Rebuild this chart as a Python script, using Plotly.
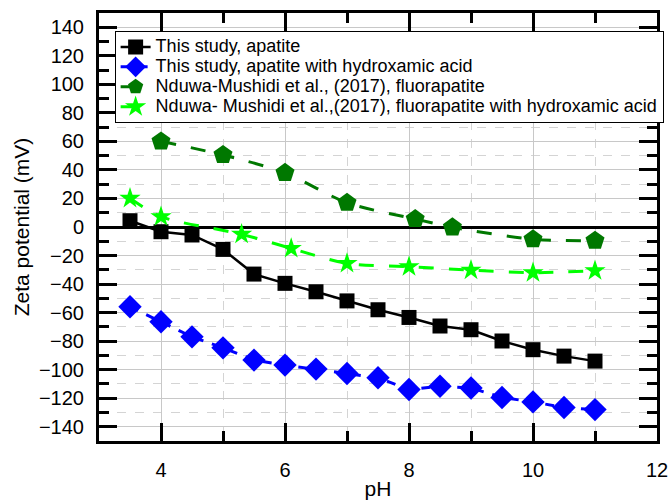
import plotly.graph_objects as go

# pH values and zeta potentials (mV)
ph_apatite = [3.5, 4, 4.5, 5, 5.5, 6, 6.5, 7, 7.5, 8, 8.5, 9, 9.5, 10, 10.5, 11]
zeta_apatite = [4.4, -3.3, -5.6, -15.7, -33, -39.5, -45.4, -51.8, -58, -63.4, -69.4, -72, -79.9, -86, -90.5, -94]

ph_apatite_ha = [3.5, 4, 4.5, 5, 5.5, 6, 6.5, 7, 7.5, 8, 8.5, 9, 9.5, 10, 10.5, 11]
zeta_apatite_ha = [-55.9, -66.4, -77, -84.7, -93.3, -96.8, -99.6, -102.7, -105.7, -113.9, -111.6, -112.8, -119.5, -122.6, -126.5, -128]

ph_fluor = [4, 5, 6, 7, 8.1, 8.7, 10, 11]
zeta_fluor = [60, 50.5, 38, 17, 5.6, -0.2, -8.6, -9.6]

ph_fluor_ha = [3.5, 4, 5.3, 6.1, 7, 8, 9, 10, 11]
zeta_fluor_ha = [20.1, 7.2, -5.1, -15, -25.5, -27.8, -30.2, -32, -30.6]

names = [
    "This study, apatite",
    "This study, apatite with hydroxamic acid",
    "Nduwa-Mushidi et al., (2017), fluorapatite",
    "Nduwa- Mushidi et al.,(2017), fluorapatite with hydroxamic acid",
]

x_ticks = [4, 6, 8, 10, 12]
y_ticks = [-140, -120, -100, -80, -60, -40, -20, 0, 20, 40, 60, 80, 100, 120, 140]

FONT = "Liberation Sans, Arial, sans-serif"


def legend_label(s):
    return '<span style="font-size:18px">' + s + '</span>'


fig = go.Figure()
fig.add_trace(go.Scatter(
    x=ph_apatite, y=zeta_apatite, name=legend_label(names[0]), mode="lines+markers",
    line=dict(color="#000000", width=2.5),
    marker=dict(symbol="square", size=15, color="#000000")))
fig.add_trace(go.Scatter(
    x=ph_apatite_ha, y=zeta_apatite_ha, name=legend_label(names[1]), mode="lines+markers",
    line=dict(color="#0000ff", width=3, dash="dash"),
    marker=dict(symbol="diamond", size=18, color="#0000ff")))
fig.add_trace(go.Scatter(
    x=ph_fluor, y=zeta_fluor, name=legend_label(names[2]), mode="lines+markers",
    line=dict(color="#007800", width=3, dash="longdash", shape="spline", smoothing=0.8),
    marker=dict(symbol="pentagon", size=20, color="#007800")))
fig.add_trace(go.Scatter(
    x=ph_fluor_ha, y=zeta_fluor_ha, name=legend_label(names[3]), mode="lines+markers",
    line=dict(color="#00ff00", width=3, dash="longdash", shape="spline", smoothing=0.8),
    marker=dict(symbol="star", size=16, color="#00ff00")))

axis_common = dict(
    showline=True, linecolor="#000000", linewidth=3, mirror="allticks",
    ticks="inside", tickcolor="#000000", tickwidth=2.5, ticklen=18,
    showgrid=True, gridcolor="#c8c8c8", gridwidth=1,
    tickfont=dict(family=FONT, size=20, color="#000000"),
    automargin=False,
)

fig.update_xaxes(
    range=[3, 12], tickmode="array", tickvals=x_ticks,
    minor=dict(dtick=1, tick0=3, ticks="inside", ticklen=10, tickwidth=2.5, tickcolor="#000000",
               showgrid=True, gridcolor="#d4d4d4", griddash="dash", gridwidth=1),
    title=dict(text="pH", font=dict(family=FONT, size=21, color="#000000"), standoff=2),
    ticklabelstandoff=9,
    zeroline=False,
    **axis_common)
fig.update_yaxes(
    range=[-150, 150], tickmode="array", tickvals=y_ticks,
    minor=dict(dtick=10, tick0=0, ticks="inside", ticklen=10, tickwidth=2.5, tickcolor="#000000",
               showgrid=True, gridcolor="#d4d4d4", griddash="dash", gridwidth=1),
    title=dict(text="Zeta potential (mV)", font=dict(family=FONT, size=21, color="#000000"), standoff=4),
    ticklabelstandoff=8,
    zeroline=True, zerolinecolor="#000000", zerolinewidth=2.5,
    **axis_common)

fig.update_layout(
    width=672, height=500,
    margin=dict(l=99, r=15, t=13, b=59, autoexpand=False),
    paper_bgcolor="#ffffff", plot_bgcolor="#ffffff",
    font=dict(family=FONT, size=15, color="#000000"),
    showlegend=True,
    legend=dict(
        x=0.028, y=0.958, xanchor="left", yanchor="top",
        bgcolor="#ffffff", bordercolor="#000000", borderwidth=1,
        font=dict(family=FONT, size=13, color="#000000"),
        itemwidth=30, tracegroupgap=0,
    ),
)

fig.write_html("out.html")
